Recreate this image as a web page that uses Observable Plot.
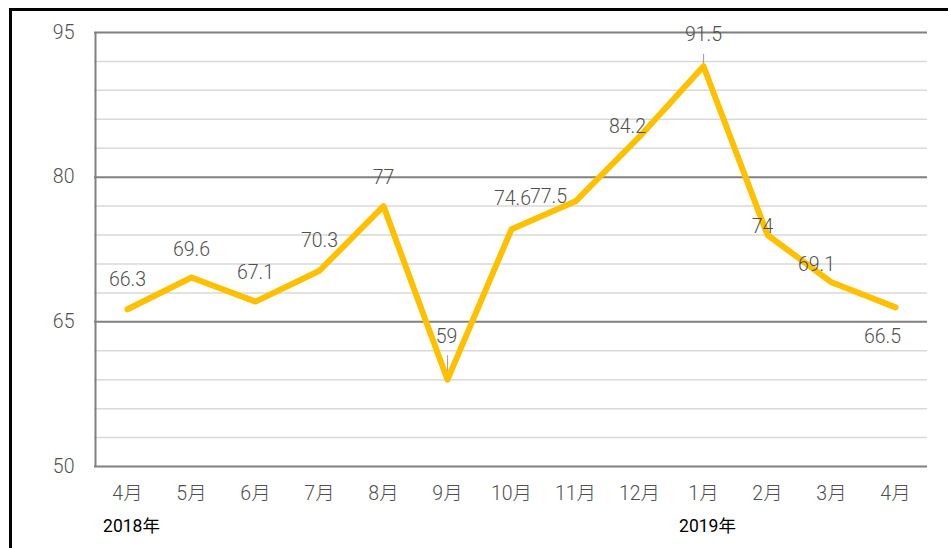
<!DOCTYPE html>
<html><head><meta charset="utf-8">
<script src="https://cdn.jsdelivr.net/npm/d3@7"></script>
<script src="https://cdn.jsdelivr.net/npm/@observablehq/plot@0.6"></script>
<style>
html,body{margin:0;padding:0;background:#fff;overflow:hidden;}
#wrap{position:relative;width:948px;height:548px;overflow:hidden;}
#frame{position:absolute;left:9px;top:8px;width:1000px;height:1000px;border:3px solid #000;box-sizing:border-box;pointer-events:none;}
#chart{position:absolute;left:0;top:0;}
</style></head><body><div id="wrap"><div id="chart"></div><div id="frame"></div></div>
<script>
const months = ["4月","5月","6月","7月","8月","9月","10月","11月","12月","1月","2月","3月","4月"];
const values = [66.3, 69.6, 67.1, 70.3, 77, 59, 74.6, 77.5, 84.2, 91.5, 74, 69.1, 66.5];
const yearLabels = ["2018年", "2019年"];
const yearIndex = [0, 9];
const yMajorTicks = [50, 65, 80, 95];
const yMinorTicks = [53, 56, 59, 62, 68, 71, 74, 77, 83, 86, 89, 92];

const data = values.map((v, i) => ({i, v, label: String(v)}));
const years = yearLabels.map((t, k) => ({i: yearIndex[k], t}));
const monthIdx = d3.range(months.length);

// label placement (pixel offsets, layout only)
const labelOffsets = [[0,-30],[0,-28],[0,-29],[0,-30],[0,-28],[-1,-43],[1,-30],[-27,-5],[-12,-10],[0,-32],[-5,-8],[-15,-18],[-13,29]];

const font = "Roboto, 'Noto Sans CJK SC', sans-serif";
const grey = "#505050";

const labelMarks = data.map((d, k) => Plot.text([d], {
  x: "i", y: "v", text: "label",
  dx: labelOffsets[k][0], dy: labelOffsets[k][1],
  fill: grey, fontSize: 19.5, fontWeight: 300
}));

const chart = Plot.plot({
  width: 948, height: 548,
  marginLeft: 94, marginRight: 21, marginTop: 32, marginBottom: 82,
  style: {fontFamily: font, color: grey, background: "transparent"},
  x: {type: "point", domain: monthIdx, padding: 0.5, axis: null},
  y: {domain: [50, 95], axis: null},
  marks: [
    Plot.ruleY(yMinorTicks, {stroke: "#d9d9d9", strokeWidth: 1.5}),
    Plot.ruleY(yMajorTicks, {stroke: "#808080", strokeWidth: 2}),
    Plot.ruleX([0], {dx: -32, stroke: "#808080", strokeWidth: 2}),
    Plot.text(yMajorTicks, {y: d => d, text: d => String(d), frameAnchor: "left", textAnchor: "end", lineAnchor: "middle", dx: -20, fill: grey, fontSize: 19.5, fontWeight: 300}),
    Plot.text(monthIdx, {x: d => d, text: i => months[i], frameAnchor: "bottom", lineAnchor: "middle", dy: 27, fill: grey, fontSize: 19.5, fontWeight: 300}),
    Plot.ruleX([data[5]], {x: "i", y1: "v", y2: "v", insetTop: -24, stroke: "#a6a6a6", strokeWidth: 1.2}),
    Plot.ruleX([data[9]], {x: "i", y1: "v", y2: "v", insetTop: -12, stroke: "#a6a6a6", strokeWidth: 1.2}),
    Plot.line(data, {x: "i", y: "v", stroke: "#FFC000", strokeWidth: 6, strokeLinejoin: "round", strokeLinecap: "round"}),
    ...labelMarks,
    Plot.text(years, {x: "i", text: "t", frameAnchor: "bottom", lineAnchor: "middle", dy: 60, dx: 4, fill: "#000", fontSize: 17.5})
  ]
});
document.getElementById("chart").appendChild(chart);
</script></body></html>
